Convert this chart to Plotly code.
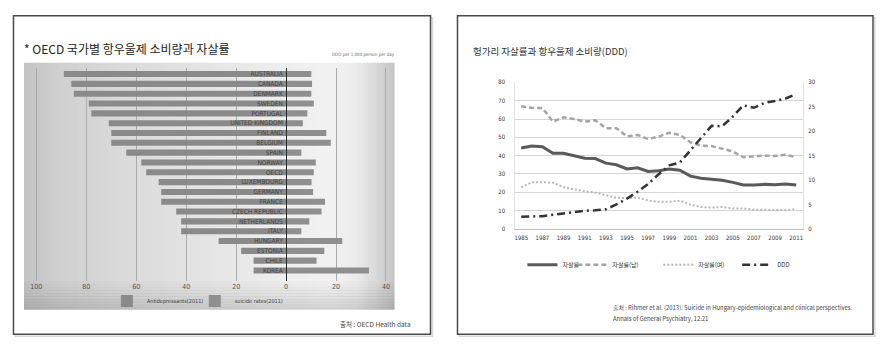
import plotly.graph_objects as go
import numpy as np

W, H = 889, 347

# ---------------- data: left chart (OECD 2011) ----------------
countries = ["AUSTRALIA", "CANADA", "DENMARK", "SWEDEN", "PORTUGAL", "UNITED KINGDOM",
             "FINLAND", "BELGIUM", "SPAIN", "NORWAY", "OECD", "LUXEMBOURG", "GERMANY",
             "FRANCE", "CZECH REPUBLIC", "NETHERLANDS", "ITALY", "HUNGARY", "ESTONIA",
             "CHILE", "KOREA"]
antidepressants = [89, 86, 85, 79, 78, 71, 70, 70, 64, 58, 56, 51, 50, 50, 44, 42, 42,
                   27, 18, 13, 13]
suicide_rates = [10.1, 10.4, 10.1, 11.1, 8.5, 6.7, 16.1, 17.9, 6.1, 11.9, 11.1, 10.2,
                 10.8, 15.6, 14.2, 9.3, 6.1, 22.5, 15.3, 12.2, 33.2]
left_tickvals = [-100, -80, -60, -40, -20, 0, 20, 40]
left_ticktext = ["100", "80", "60", "40", "20", "0", "20", "40"]

# ---------------- data: right chart (Hungary) ----------------
years = list(range(1985, 2012))
suicide_total = [44.2, 45.2, 44.9, 41.3, 41.3, 39.8, 38.6, 38.4, 35.9, 35.0, 32.7, 33.4,
                 31.4, 31.7, 32.7, 32.0, 28.8, 27.7, 27.3, 26.6, 25.4, 24.0, 24.0, 24.3,
                 24.1, 24.5, 23.9]
suicide_male = [67.0, 66.1, 66.0, 58.6, 60.9, 60.0, 58.6, 59.3, 55.0, 55.0, 50.5, 51.3,
                49.1, 50.4, 52.5, 51.3, 47.3, 45.5, 45.2, 43.8, 42.3, 39.1, 39.5, 40.0,
                39.8, 40.5, 39.1]
suicide_female = [22.7, 25.5, 25.5, 25.2, 22.7, 21.4, 20.5, 19.8, 18.2, 17.0, 16.8, 17.0,
                  15.5, 14.8, 14.8, 15.4, 13.2, 12.0, 11.6, 12.0, 11.1, 11.1, 10.5, 10.5,
                  10.5, 10.2, 10.9]
ddd = [2.5, 2.55, 2.6, 2.9, 3.2, 3.5, 3.7, 3.8, 4.0, 5.0, 6.2, 7.6, 9.2, 11.2, 13.0, 13.6,
       16.0, 18.6, 21.1, 21.0, 23.0, 25.3, 24.8, 25.8, 26.2, 26.7, 27.6]
right_xticks = list(range(1985, 2012, 2))


def px(x):
    return x / W


def py(y):
    return 1 - y / H


NARROW = "Liberation Sans Narrow, DejaVu Sans Condensed, Liberation Sans, Noto Sans CJK KR"
KR = "Noto Sans CJK KR, Noto Sans, sans-serif"

fig = go.Figure()

# left chart bars
fig.add_trace(go.Bar(
    y=countries, x=[-v for v in antidepressants], orientation="h",
    name="Antidepressants(2011)", marker=dict(color="#8a8a8a", line=dict(width=0)),
    width=0.62, xaxis="x", yaxis="y", legend="legend", hoverinfo="skip"))
fig.add_trace(go.Bar(
    y=countries, x=suicide_rates, orientation="h",
    name="suicide rates(2011)", marker=dict(color="#8f8f8f", line=dict(width=0)),
    width=0.62, xaxis="x", yaxis="y", legend="legend6", hoverinfo="skip"))

# right chart lines
fig.add_trace(go.Scatter(x=years, y=suicide_total, mode="lines", name="자살률",
                         line=dict(color="#5a5a5a", width=3), xaxis="x2", yaxis="y2",
                         legend="legend2"))
fig.add_trace(go.Scatter(x=years, y=suicide_male, mode="lines", name="자살률(남)",
                         line=dict(color="#a5a5a5", width=2.5, dash="5px,3px"),
                         xaxis="x2", yaxis="y2", legend="legend3"))
fig.add_trace(go.Scatter(x=years, y=suicide_female, mode="lines", name="자살률(여)",
                         line=dict(color="#b8b8b8", width=2, dash="2px,2px"),
                         xaxis="x2", yaxis="y2", legend="legend4"))
fig.add_trace(go.Scatter(x=years, y=ddd, mode="lines", name="DDD",
                         line=dict(color="#333333", width=2.5, dash="8px,4px,2px,4px"),
                         xaxis="x2", yaxis="y3", legend="legend5"))

shapes = []
# panel shadows and borders
for (x0, x1) in [(12.5, 430), (457, 873)]:
    shapes.append(dict(type="rect", xref="paper", yref="paper", x0=px(x0 + 2), x1=px(x1 + 2),
                       y0=py(339), y1=py(14), line=dict(color="#d8d8d8", width=1.5),
                       fillcolor="rgba(0,0,0,0)", layer="below"))
    shapes.append(dict(type="rect", xref="paper", yref="paper", x0=px(x0), x1=px(x1),
                       y0=py(337), y1=py(12), line=dict(color="#4a4a4a", width=1.5),
                       fillcolor="white", layer="below"))

# gradient background of left chart area (decoration)
gx0, gx1, gy0, gy1 = 23, 394, 60, 312
prof_x = [23, 60, 120, 200, 280, 330, 355, 375, 394]
prof_v = [196, 208, 218, 228, 238, 242, 236, 218, 196]
step = 3
xs = np.arange(gx0, gx1, step)
for x in xs:
    v = int(np.interp(x + step / 2, prof_x, prof_v))
    shapes.append(dict(type="rect", xref="paper", yref="paper", x0=px(x), x1=px(min(x + step + 0.6, gx1)),
                       y0=py(gy1), y1=py(gy0), line=dict(width=0),
                       fillcolor=f"rgb({v},{v},{v})", layer="below"))
for y in range(280, gy1, 3):
    a = 0.12 * (y - 280) / (gy1 - 280)
    shapes.append(dict(type="rect", xref="paper", yref="paper", x0=px(gx0), x1=px(gx1),
                       y0=py(min(y + 3.5, gy1)), y1=py(y), line=dict(width=0),
                       fillcolor=f"rgba(0,0,0,{a:.3f})", layer="below"))

annotations = [
    dict(text="* OECD 국가별 항우울제 소비량과 자살률", x=px(21), y=py(45), xref="paper", yref="paper",
         xanchor="left", yanchor="middle", showarrow=False,
         font=dict(family=KR, size=12, color="#222222")),
    dict(text="DDD per 1,000 person per day", x=px(396), y=py(52), xref="paper", yref="paper",
         xanchor="right", yanchor="middle", showarrow=False,
         font=dict(family=NARROW, size=4.5, color="#666666")),
    dict(text="출처 : OECD Health data", x=px(412), y=py(327), xref="paper", yref="paper",
         xanchor="right", yanchor="middle", showarrow=False,
         font=dict(family=KR, size=6.5, color="#444444")),
    dict(text="헝가리 자살률과 항우울제 소비량(DDD)", x=px(471), y=py(48), xref="paper", yref="paper",
         xanchor="left", yanchor="middle", showarrow=False,
         font=dict(family=KR, size=9.5, color="#333333")),
    dict(text="출처 : Rihmer et al. (2013). Suicide in Hungary-epidemiological and clinical perspectives.",
         x=px(611), y=py(310), xref="paper", yref="paper", xanchor="left", yanchor="middle",
         showarrow=False, font=dict(family=KR, size=5.9, color="#444444")),
    dict(text="Annals of General Psychiatry, 12:21",
         x=px(611), y=py(321), xref="paper", yref="paper", xanchor="left", yanchor="middle",
         showarrow=False, font=dict(family=KR, size=5.9, color="#444444")),
]


def legend_cfg(x, y, xanchor="left", family=KR, size=6, color="#333333", orientation="v"):
    return dict(bgcolor="rgba(0,0,0,0)", borderwidth=0, yanchor="middle",
                xanchor=xanchor, x=x, y=y, orientation=orientation,
                font=dict(family=family, size=size, color=color), itemwidth=30)


fig.update_layout(
    width=W, height=H, margin=dict(l=0, r=0, t=0, b=0),
    paper_bgcolor="white", plot_bgcolor="rgba(0,0,0,0)",
    barmode="overlay", bargap=0.4,
    showlegend=True,
    shapes=shapes, annotations=annotations,
    xaxis=dict(domain=[px(23), px(394)], range=[-104.96, 43.44],
               tickvals=left_tickvals, ticktext=left_ticktext,
               showgrid=True, gridcolor="#a9a9a9", gridwidth=1, zeroline=False,
               showline=False, ticks="", anchor="y",
               tickfont=dict(family=NARROW, size=7, color="#555555")),
    yaxis=dict(domain=[py(283), py(65)], range=[21.1, -0.65], type="category",
               categoryorder="array", categoryarray=countries,
               anchor="free", position=px(285.4), showline=True, linecolor="#2a2a2a",
               linewidth=1, showgrid=False, zeroline=False, ticks="",
               ticklabelstandoff=2,
               tickfont=dict(family=NARROW, size=6.5, color="#454545")),
    xaxis2=dict(domain=[px(515), px(803)], range=[1984.45, 2011.65], anchor="y2",
                tickvals=right_xticks, ticktext=[str(v) for v in right_xticks],
                showgrid=False, zeroline=False, showline=True, linecolor="#bfbfbf",
                ticks="", ticklabelstandoff=3,
                tickfont=dict(family=NARROW, size=6, color="#333333")),
    yaxis2=dict(domain=[py(229.5), py(80)], range=[0, 80], anchor="x2",
                tickvals=list(range(0, 81, 10)), showgrid=True, gridcolor="#d6d6d6",
                zeroline=False, showline=True, linecolor="#e2e2e2", ticks="",
                ticklabelstandoff=8,
                tickfont=dict(family=NARROW, size=6, color="#333333")),
    yaxis3=dict(domain=[py(229.5), py(80)], range=[0, 30], anchor="x2", overlaying="y2",
                side="right", tickvals=list(range(0, 31, 5)), showgrid=False,
                zeroline=False, showline=True, linecolor="#e2e2e2", ticks="",
                ticklabelstandoff=3,
                tickfont=dict(family=NARROW, size=6, color="#333333")),
    legend=legend_cfg(px(106), py(303), family=NARROW, size=5.5, color="#444444"),
    legend6=legend_cfg(px(194), py(303), family=NARROW, size=5.5, color="#444444"),
    legend2=legend_cfg(px(522), py(266)),
    legend3=legend_cfg(px(572), py(266)),
    legend4=legend_cfg(px(658), py(266)),
    legend5=legend_cfg(px(737), py(266)),
)

fig.write_html("out.html")
